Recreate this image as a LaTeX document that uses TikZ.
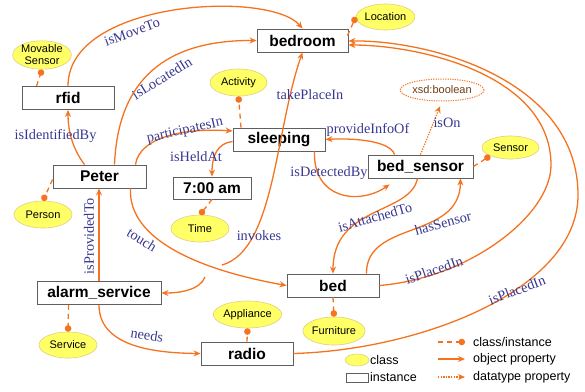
\documentclass[tikz,border=0pt]{standalone}
\usepackage{fontspec}
\setmainfont{Liberation Serif}
\newfontfamily\arialfont{Liberation Sans}
\usetikzlibrary{arrows.meta,calc,shapes.geometric}
\definecolor{propor}{RGB}{245,115,30}
\definecolor{lblue}{RGB}{55,55,145}
\definecolor{clsfill}{RGB}{255,255,102}
\definecolor{clsedge}{RGB}{225,205,130}
\definecolor{boxedge}{RGB}{95,95,95}
\definecolor{xsdtext}{RGB}{110,60,20}
\tikzset{
  inst/.style={draw=boxedge, line width=0.9pt, fill=white, minimum height=23pt, inner sep=0pt,
    font=\arialfont\bfseries\fontsize{15.5}{16}\selectfont},
  cls/.style={ellipse, draw=clsedge, line width=0.6pt, fill=clsfill, minimum width=58pt,
    minimum height=27pt, inner sep=0pt, align=center,
    font=\arialfont\fontsize{11}{12}\selectfont},
  objprop/.style={draw=propor, line width=1.3pt, -{Stealth[length=7pt,width=6pt]}},
  isa/.style={draw=propor, line width=1.3pt, dash pattern=on 5pt off 4pt, -{Circle[length=6.5pt]}},
  dataprop/.style={draw=propor, line width=1.2pt, dash pattern=on 1.3pt off 1.3pt,
    -{Stealth[length=7pt,width=6pt]}},
  lbl/.style={text=lblue, inner sep=0pt, font=\fontsize{14.3}{15}\selectfont},
  legtext/.style={anchor=west, inner sep=0pt, font=\arialfont\fontsize{12.5}{13}\selectfont},
}
\begin{document}
\begin{tikzpicture}[x=1pt,y=-1pt]
\useasboundingbox (0,0) rectangle (585,391);

% instances
\node[inst, minimum width=91pt]  (bedroom)   at (302.5,40.5) {bedroom};
\node[inst, minimum width=92pt]  (rfid)      at (68,98)      {rfid};
\node[inst, minimum width=93pt]  (Peter)     at (99.5,176.5) {Peter};
\node[inst, minimum width=92pt]  (sleeping)  at (279,139.5)  {sleeping};
\node[inst, minimum width=78pt, minimum height=22pt] (t7) at (212,188) {7:00 am};
\node[inst, minimum width=105pt] (bedsensor) at (420.5,166.5) {bed\_sensor};
\node[inst, minimum width=92pt]  (bed)       at (333,285.5)  {bed};
\node[inst, minimum width=124pt] (alarm)     at (99,293)     {alarm\_service};
\node[inst, minimum width=92pt]  (radio)     at (247,353.5)  {radio};

% classes
\node[cls, minimum height=26pt] (movsens) at (42,55)      {Movable\\Sensor};
\node[cls, minimum width=57pt, minimum height=26pt] (loc) at (385.5,17) {Location};
\node[cls, minimum width=57pt] (act)      at (238.5,82.5) {Activity};
\node[cls] (person)   at (43,214.5)   {Person};
\node[cls] (time)     at (200,228.5)  {Time};
\node[cls, minimum height=26pt] (service) at (68,345) {Service};
\node[cls, minimum width=59pt] (appl)     at (247.5,314.5) {Appliance};
\node[cls, minimum width=57pt, minimum height=23pt] (sensor) at (510.5,147.5) {Sensor};
\node[cls, minimum height=28pt] (furn)    at (334,331)    {Furniture};
\node[ellipse, draw=propor, line width=1pt, dash pattern=on 1.2pt off 1.2pt, fill=white,
      minimum width=70pt, minimum height=22pt, inner sep=0pt, text=xsdtext,
      font=\arialfont\fontsize{11}{12}\selectfont] (xsd) at (442,90) {xsd:boolean};

% class/instance links
\draw[isa] ($(rfid.north west)+(15,0)$) -- (movsens.south);
\draw[isa] ($(bedroom.north east)+(-1,7)$) -- (loc.west);
\draw[isa] ($(sleeping.north)+(-38,0)$) -- (act.south);
\draw[isa] ($(Peter.west)+(0,3)$) -- (person.north);
\draw[isa] (t7.south) -- (time.north);
\draw[isa] ($(alarm.south west)+(32,0)$) -- (service.north);
\draw[isa] (radio.north) -- (appl.south);
\draw[isa] (bedsensor.east) -- (sensor.south west);
\draw[isa] (bed.south) -- (furn.north);

% free ends and way points
\coordinate (invsrc) at (205,277);
\coordinate (tpsrc) at (222,265);
\coordinate (bedloop) at (551,165);
\coordinate (radioloop) at (578,195);

% object properties
\draw[objprop] (rfid.north) .. controls (68,0) and (270,-10) .. (bedroom.north);
\draw[objprop] ($(Peter.north)+(15,0)$) .. controls (118,80) and (165,40) .. (bedroom.west);
\draw[objprop] ($(Peter.north)+(-15,0)$) .. controls (72,148) and (68,130) .. (rfid.south);
\draw[objprop] ($(Peter.north east)+(-11,0)$) .. controls (140,135) and (190,128) .. ($(sleeping.west)+(0,-8.5)$);
\draw[objprop] ($(sleeping.west)+(0,2)$) .. controls (218,143) and (212,155) .. (t7.north);
\draw[objprop] ($(bedsensor.north west)+(27,0)$) .. controls (390,140) and (350,138) .. (sleeping.east);
\draw[objprop] ($(sleeping.south east)+(-11,0)$) .. controls (313,200) and (360,205) .. ($(bedsensor.south west)+(22,6)$);
\draw[objprop] ($(bedsensor.south)+(-3,0)$) .. controls (410,215) and (333,205) .. (bed.north);
\draw[objprop] ($(bed.north east)+(-13,0)$) .. controls (366,220) and (460,240) .. ($(bedsensor.south east)+(-13,0)$);
\draw[objprop] (bed.east) .. controls (470,278) and (551,215) .. (bedloop)
   .. controls (551,75) and (420,45) .. ($(bedroom.east)+(0,4.5)$);
\draw[objprop] (radio.east) .. controls (420,350) and (578,290) .. (radioloop)
   .. controls (578,80) and (430,40) .. ($(bedroom.east)+(0,0.5)$);
\draw[objprop] (alarm.north) -- (alarm.north |- Peter.south);
\draw[objprop] ($(Peter.south east)+(-16,0)$) .. controls (128,240) and (200,270) .. (bed.west);
\draw[objprop] (invsrc) .. controls (200,290) and (180,293) .. (alarm.east);
\draw[objprop] (tpsrc) .. controls (275,250) and (275,130) .. (bedroom.south);
\draw[objprop] (alarm.south) .. controls (99,345) and (150,353) .. (radio.west);

% datatype property
\draw[dataprop, shorten >=5pt] (bedsensor.north) -- (xsd.south);

% property labels
\node[lbl, rotate=20]  (l1)  at (132,32)  {isMoveTo};
\node[lbl, rotate=32]  (l2)  at (162,78)  {isLocatedIn};
\node[lbl]             (l3)  at (55.5,136) {isIdentifiedBy};
\node[lbl, rotate=13]  (l4)  at (185,131) {participatesIn};
\node[lbl]             (l5)  at (196,157) {isHeldAt};
\node[lbl]             (l6)  at (310,95)  {takePlaceIn};
\node[lbl]             (l7)  at (368,130) {provideInfoOf};
\node[lbl]             (l8)  at (329,173) {isDetectedBy};
\node[lbl]             (l9)  at (447,123) {isOn};
\node[lbl, rotate=16]  (l10) at (375,217) {isAttachedTo};
\node[lbl, rotate=15]  (l11) at (443,223) {hasSensor};
\node[lbl, rotate=19]  (l12) at (434,270) {isPlacedIn};
\node[lbl, rotate=21]  (l13) at (517,290) {isPlacedIn};
\node[lbl, rotate=90]  (l14) at (89,236)  {isProvidedTo};
\node[lbl, rotate=-32] (l15) at (142,240) {touch};
\node[lbl]             (l16) at (259,236) {invokes};
\node[lbl, rotate=-9]  (l17) at (147,335) {needs};

% legend
\coordinate (lga) at (438,342); \coordinate (lgb) at (465,342);
\coordinate (lgc) at (438,359); \coordinate (lgd) at (465,359);
\coordinate (lge) at (438,377); \coordinate (lgf) at (465,377);
\draw[isa] (lga) -- (lgb);
\draw[objprop] (lgc) -- (lgd);
\draw[dataprop] (lge) -- (lgf);
\node[legtext] (lt1) at (473,342) {class/instance};
\node[legtext] (lt2) at (473,359) {object property};
\node[legtext] (lt3) at (473,377) {datatype property};
\node[cls, minimum width=24pt, minimum height=12pt] (lgcls) at (357,360) {};
\node[draw=boxedge, line width=0.8pt, minimum width=22pt, minimum height=9pt, inner sep=0pt] (lginst) at (357,377.5) {};
\node[legtext] (lt4) at (370,360) {class};
\node[legtext] (lt5) at (370,377) {instance};
\end{tikzpicture}
\end{document}
